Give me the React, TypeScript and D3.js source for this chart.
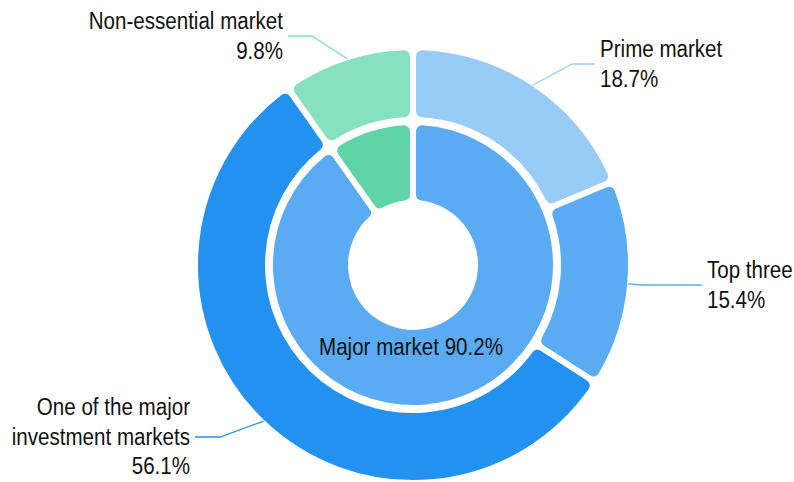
import React from "react";
import * as d3 from "d3";

const outerNames = ["Prime market", "Top three", "One of the major investment markets", "Non-essential market"];
const outerValues = [18.7, 15.4, 56.1, 9.8];
const outerColors = ["#99CBF7", "#5AABF2", "#2291EF", "#87E0BF"];

const innerNames = ["Major market", "Non-essential market"];
const innerValues = [90.2, 9.8];
const innerColors = ["#5AABF2", "#5FD5A7"];

// label text lines (display)
const outerLabelLines = [
  ["Prime market", "18.7%"],
  ["Top three", "15.4%"],
  ["One of the major", "investment markets", "56.1%"],
  ["Non-essential market", "9.8%"],
];

// layout for label lines: elbow point and end x, text side
const labelLayout = [
  { ex: 572, ey: 64, endX: 595, side: "right" },
  { ex: 642, ey: 285, endX: 702, side: "right" },
  { ex: 220, ey: 437, endX: 195, side: "left" },
  { ex: 312, ey: 36, endX: 288, side: "left" },
];

const W = 794;
const H = 482;
const cx = 413;
const cy = 265;
const SW = 6;
const outerR = [148, 215];
const innerR = [65, 140];
const FONT = "'Liberation Sans', Arial, sans-serif";
const FS = 23.5;
const SX = 0.875;
const LH = 29.5;

export default function App() {
  const pie = d3.pie<number>().sort(null).value((d) => d);
  const outerArcs = pie(outerValues);
  const innerArcs = pie(innerValues);

  const outerArc = d3
    .arc<d3.PieArcDatum<number>>()
    .innerRadius(outerR[0] - SW / 2)
    .outerRadius(outerR[1] + SW / 2)
    .cornerRadius(9);
  const innerArc = d3
    .arc<d3.PieArcDatum<number>>()
    .innerRadius(innerR[0] - SW / 2)
    .outerRadius(innerR[1] + SW / 2)
    .cornerRadius(9);

  return (
    <svg width={W} height={H} style={{ position: "absolute", left: 0, top: 0, background: "#fff" }}>
      <g transform={`translate(${cx},${cy})`}>
        {outerArcs.map((a, i) => (
          <path key={"o" + i} d={outerArc(a) || ""} fill={outerColors[i]} stroke="#fff" strokeWidth={SW} strokeLinejoin="round">
            <title>{outerNames[i]}</title>
          </path>
        ))}
        {innerArcs.map((a, i) => (
          <path key={"i" + i} d={innerArc(a) || ""} fill={innerColors[i]} stroke="#fff" strokeWidth={SW} strokeLinejoin="round">
            <title>{innerNames[i]}</title>
          </path>
        ))}
      </g>
      {outerArcs.map((a, i) => {
        const mid = (a.startAngle + a.endAngle) / 2;
        const sx = cx + (outerR[1] + 1) * Math.sin(mid);
        const sy = cy - (outerR[1] + 1) * Math.cos(mid);
        const L = labelLayout[i];
        const lines = outerLabelLines[i];
        const right = L.side === "right";
        const tx = right ? L.endX + 5 : L.endX - 5;
        const n = lines.length;
        return (
          <g key={"l" + i}>
            <polyline
              points={`${sx},${sy} ${L.ex},${L.ey} ${L.endX},${L.ey}`}
              fill="none"
              stroke={outerColors[i]}
              strokeWidth={1.3}
            />
            {lines.map((t, j) => {
              const y = L.ey + (j - (n - 1) / 2) * LH;
              return (
                <text
                  key={j}
                  transform={`translate(${tx},${y}) scale(${SX},1)`}
                  textAnchor={right ? "start" : "end"}
                  dominantBaseline="central"
                  fontFamily={FONT}
                  fontSize={FS}
                  fill="#111"
                >
                  {t}
                </text>
              );
            })}
          </g>
        );
      })}
      <text
        transform={`translate(${411},${347}) scale(${SX},1)`}
        textAnchor="middle"
        dominantBaseline="central"
        fontFamily={FONT}
        fontSize={FS}
        fill="#111"
      >
        {`${innerNames[0]} ${innerValues[0]}%`}
      </text>
    </svg>
  );
}
